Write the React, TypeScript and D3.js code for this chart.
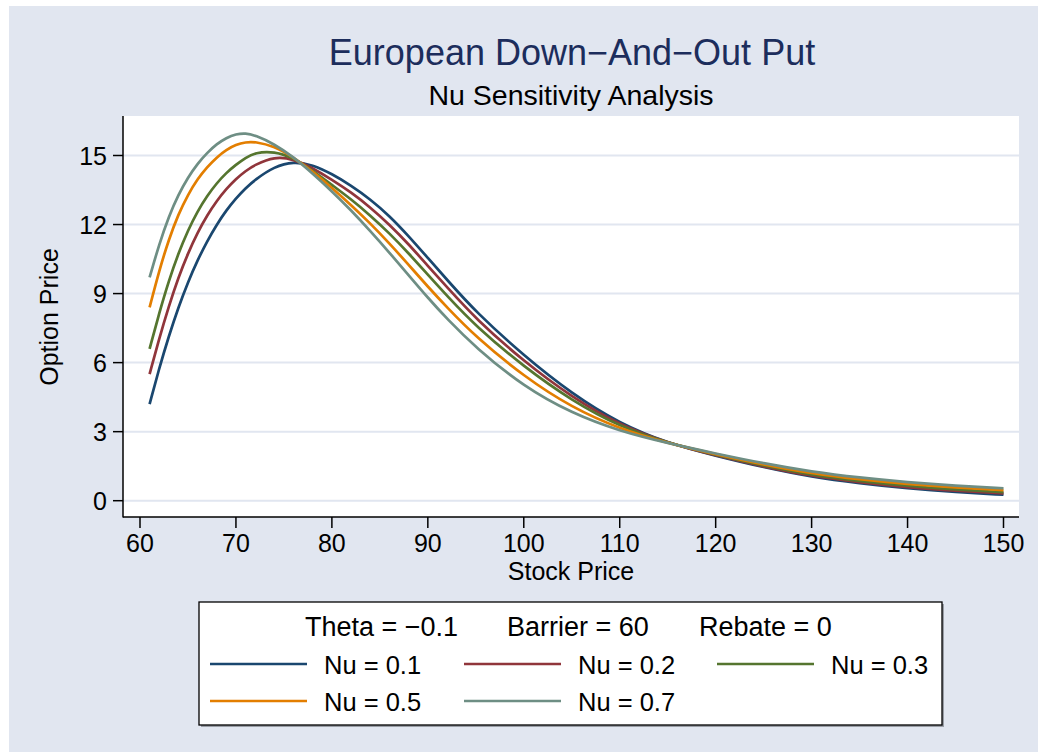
import React from "react";
import * as d3 from "d3";

// ---- Data ----
const stockPrice = [61, 62, 63, 64, 65, 66, 67, 68, 69, 70, 71, 72, 74, 76, 78, 80, 82, 84, 86, 88, 90, 92, 95, 100, 105, 110, 115, 120, 125, 130, 135, 140, 145, 150];
const nu01 = [4.2, 5.75, 7.15, 8.4, 9.5, 10.45, 11.28, 12.0, 12.62, 13.14, 13.58, 13.95, 14.52, 14.74, 14.6, 14.2, 13.7, 13.1, 12.38, 11.5, 10.55, 9.6, 8.2, 6.3, 4.65, 3.35, 2.5, 1.95, 1.45, 1.03, 0.75, 0.53, 0.37, 0.26];
const nu02 = [5.5, 7.05, 8.45, 9.7, 10.75, 11.65, 12.4, 13.03, 13.55, 13.98, 14.33, 14.6, 14.95, 14.85, 14.45, 13.95, 13.4, 12.75, 12.0, 11.15, 10.2, 9.28, 7.9, 6.05, 4.5, 3.28, 2.5, 1.97, 1.48, 1.07, 0.8, 0.58, 0.43, 0.32];
const nu03 = [6.6, 8.15, 9.55, 10.75, 11.75, 12.58, 13.25, 13.8, 14.25, 14.6, 14.9, 15.13, 15.18, 14.9, 14.35, 13.72, 13.1, 12.4, 11.62, 10.75, 9.82, 8.9, 7.58, 5.82, 4.35, 3.22, 2.5, 2.0, 1.52, 1.12, 0.85, 0.64, 0.48, 0.37];
const nu05 = [8.4, 10.0, 11.35, 12.45, 13.3, 13.98, 14.5, 14.92, 15.25, 15.47, 15.58, 15.6, 15.4, 14.92, 14.3, 13.6, 12.85, 12.05, 11.18, 10.25, 9.3, 8.4, 7.12, 5.4, 4.05, 3.12, 2.5, 2.02, 1.57, 1.19, 0.92, 0.72, 0.57, 0.46];
const nu07 = [9.7, 11.15, 12.35, 13.3, 14.05, 14.65, 15.12, 15.5, 15.77, 15.93, 15.97, 15.88, 15.5, 14.93, 14.22, 13.45, 12.62, 11.72, 10.78, 9.8, 8.82, 7.9, 6.65, 4.95, 3.8, 3.02, 2.5, 2.05, 1.62, 1.26, 1.0, 0.8, 0.65, 0.54];

const seriesValues = [nu01, nu02, nu03, nu05, nu07];
const seriesLabels = ["Nu = 0.1", "Nu = 0.2", "Nu = 0.3", "Nu = 0.5", "Nu = 0.7"];
const seriesColors = ["#1a476f", "#90353b", "#55752f", "#e37e00", "#6e8e84"];

const xTicks = [60, 70, 80, 90, 100, 110, 120, 130, 140, 150];
const yTicks = [0, 3, 6, 9, 12, 15];

const titleText = "European Down\u2212And\u2212Out Put";
const subtitleText = "Nu Sensitivity Analysis";
const xAxisTitle = "Stock Price";
const yAxisTitle = "Option Price";
const legendTitleParts = ["Theta = \u22120.1", "Barrier = 60", "Rebate = 0"];

// ---- Layout ----
const W = 1038;
const H = 755;
const BG = "#e1e6f0";
const FONT = "'Liberation Sans', Arial, Helvetica, sans-serif";
const plot = { left: 123, right: 1019, top: 116, bottom: 517 };

export default function App() {
  const x = d3.scaleLinear().domain([60, 150]).range([140, 1003.5]);
  const y = d3.scaleLinear().domain([0, 15]).range([500.7, 155.5]);

  const line = d3
    .line<[number, number]>()
    .x((d) => x(d[0]))
    .y((d) => y(d[1]))
    .curve(d3.curveBasis);

  const legendCols = [210, 464, 717];
  const legendRows = [664, 701];
  const legendTitleX = [305, 507, 699];

  return (
    <svg
      width={W}
      height={H}
      style={{ position: "absolute", left: 0, top: 0 }}
      fontFamily={FONT}
    >
      <rect x={0} y={0} width={W} height={H} fill="#ffffff" />
      <rect x={9} y={6} width={W - 9} height={746} fill={BG} />

      {/* Titles */}
      <text x={572} y={65} textAnchor="middle" fontSize={36} fill="#1c2d5c">
        {titleText}
      </text>
      <text x={571} y={105} textAnchor="middle" fontSize={28.5} fill="#000">
        {subtitleText}
      </text>

      {/* Plot region */}
      <rect
        x={plot.left}
        y={plot.top}
        width={plot.right - plot.left}
        height={plot.bottom - plot.top}
        fill="#ffffff"
      />

      {/* Gridlines */}
      {yTicks.map((t) => (
        <line
          key={"g" + t}
          x1={plot.left}
          x2={plot.right}
          y1={y(t)}
          y2={y(t)}
          stroke={BG}
          strokeWidth={2}
        />
      ))}

      {/* Series */}
      {seriesValues.map((vals, i) => (
        <path
          key={"s" + i}
          d={line(stockPrice.map((s, j) => [s, vals[j]] as [number, number])) || ""}
          fill="none"
          stroke={seriesColors[i]}
          strokeWidth={2.7}
          strokeLinejoin="round"
        />
      ))}

      {/* Axes */}
      <line x1={plot.left} x2={plot.left} y1={plot.top} y2={plot.bottom + 0.5} stroke="#000" strokeWidth={1.5} />
      <line x1={plot.left} x2={plot.right} y1={plot.bottom} y2={plot.bottom} stroke="#000" strokeWidth={1.5} />

      {yTicks.map((t) => (
        <g key={"yt" + t}>
          <line x1={plot.left - 10} x2={plot.left} y1={y(t)} y2={y(t)} stroke="#000" strokeWidth={1.5} />
          <text x={107} y={y(t) + 9} textAnchor="end" fontSize={25} fill="#000">
            {t}
          </text>
        </g>
      ))}

      {xTicks.map((t) => (
        <g key={"xt" + t}>
          <line x1={x(t)} x2={x(t)} y1={plot.bottom} y2={plot.bottom + 11} stroke="#000" strokeWidth={1.5} />
          <text x={x(t)} y={552} textAnchor="middle" fontSize={25} fill="#000">
            {t}
          </text>
        </g>
      ))}

      <text x={571} y={580} textAnchor="middle" fontSize={25} fill="#000">
        {xAxisTitle}
      </text>
      <text
        transform={`translate(58, ${317}) rotate(-90)`}
        textAnchor="middle"
        fontSize={25}
        fill="#000"
      >
        {yAxisTitle}
      </text>

      {/* Legend */}
      <rect x={201} y={604} width={743} height={123} fill="#9a9ea6" />
      <rect x={199} y={602} width={743} height={123} fill="#ffffff" stroke="#000" strokeWidth={1.3} />
      {legendTitleParts.map((p, i) => (
        <text key={"lt" + i} x={legendTitleX[i]} y={636} fontSize={27} fill="#000">
          {p}
        </text>
      ))}
      {seriesLabels.map((lab, i) => {
        const cx = legendCols[i % 3];
        const cy = legendRows[Math.floor(i / 3)];
        return (
          <g key={"lg" + i}>
            <line x1={cx} x2={cx + 97} y1={cy} y2={cy} stroke={seriesColors[i]} strokeWidth={2.6} />
            <text x={cx + 114} y={cy + 10} fontSize={25.5} fill="#000">
              {lab}
            </text>
          </g>
        );
      })}
    </svg>
  );
}
